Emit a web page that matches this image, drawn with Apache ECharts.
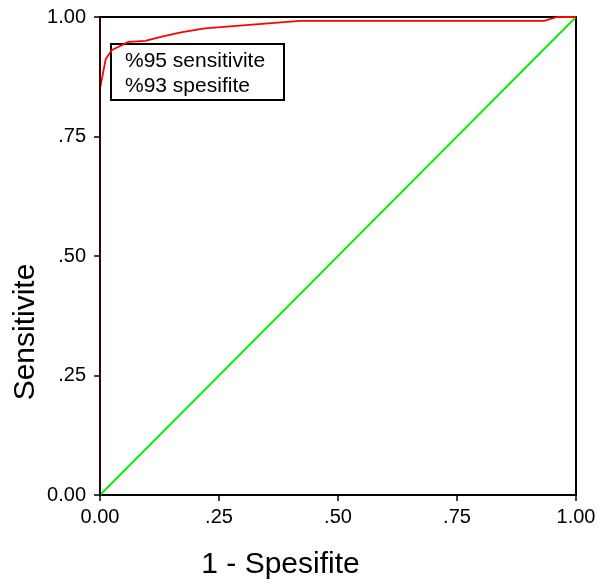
<!DOCTYPE html>
<html>
<head>
<meta charset="utf-8">
<script src="https://cdn.jsdelivr.net/npm/echarts@6/dist/echarts.min.js"></script>
<style>html,body{margin:0;padding:0;background:#fff}#c{width:602px;height:587px}</style>
</head>
<body>
<div id="c"></div>
<script>
// ROC curve (1 - specificity, sensitivity)
const rocFpr = [0, 0, 0.012, 0.025, 0.06, 0.095, 0.13, 0.17, 0.22, 0.42, 0.933, 0.96, 1.0];
const rocTpr = [0, 0.85, 0.912, 0.931, 0.948, 0.950, 0.959, 0.968, 0.976, 0.992, 0.992, 1.0, 1.0];
// Reference diagonal
const refX = [0, 1];
const refY = [0, 1];
const xTickLabels = ['0.00', '.25', '.50', '.75', '1.00'];
const yTickLabels = ['0.00', '.25', '.50', '.75', '1.00'];
const noteLines = ['%95 sensitivite', '%93 spesifite'];
const xTitle = '1 - Spesifite';
const yTitle = 'Sensitivite';

const FONT = 'Liberation Sans, Arial, sans-serif';
const chart = echarts.init(document.getElementById('c'), null, {renderer: 'canvas'});
const tickFmt = arr => v => arr[Math.round(v * 4)];
const axisCommon = {
  type: 'value', min: 0, max: 1, interval: 0.25,
  axisLine: {show: true, onZero: false, lineStyle: {color: '#000', width: 2}},
  axisTick: {show: true, length: 6, lineStyle: {color: '#000', width: 1.5}},
  splitLine: {show: false}
};
chart.setOption({
  animation: false,
  backgroundColor: '#fff',
  grid: {left: 100, right: 26, top: 17, bottom: 92, show: true, borderColor: '#000', borderWidth: 2,
         containLabel: false, outerBoundsMode: 'none'},
  xAxis: Object.assign({}, axisCommon, {
    name: xTitle, nameLocation: 'middle', nameGap: 55,
    nameTextStyle: {fontFamily: FONT, fontSize: 30, color: '#000', padding: [0, 115, 0, 0]},
    axisLabel: {formatter: tickFmt(xTickLabels), fontFamily: FONT, fontSize: 20, color: '#000', margin: 12}
  }),
  yAxis: Object.assign({}, axisCommon, {
    z: 5,
    name: yTitle, nameLocation: 'middle', nameGap: 59, nameMoveOverlap: false,
    nameTextStyle: {fontFamily: FONT, fontSize: 30, color: '#000', padding: [0, 152, 0, 0]},
    axisLine: {show: true, onZero: false, lineStyle: {color: '#3a0000', width: 2}},
    axisLabel: {formatter: tickFmt(yTickLabels), fontFamily: FONT, fontSize: 20, color: '#000', margin: 14}
  }),
  series: [
    {type: 'line', data: refX.map((x, i) => [x, refY[i]]), showSymbol: false,
     lineStyle: {color: '#00f000', width: 1.8}, z: 2},
    {type: 'line', data: rocFpr.map((x, i) => [x, rocTpr[i]]), showSymbol: false,
     lineStyle: {color: '#ff0000', width: 1.8}, z: 3}
  ],
  graphic: [{
    type: 'group', left: 110, top: 43, z: 10,
    children: [
      {type: 'rect', shape: {x: 0, y: 0, width: 173, height: 56},
       style: {fill: '#fff', stroke: '#000', lineWidth: 2}},
      {type: 'text', x: 14, y: 5,
       style: {text: noteLines.join('\n'), font: '21px ' + FONT, fill: '#000', lineHeight: 25}}
    ]
  }]
});
</script>
</body>
</html>
